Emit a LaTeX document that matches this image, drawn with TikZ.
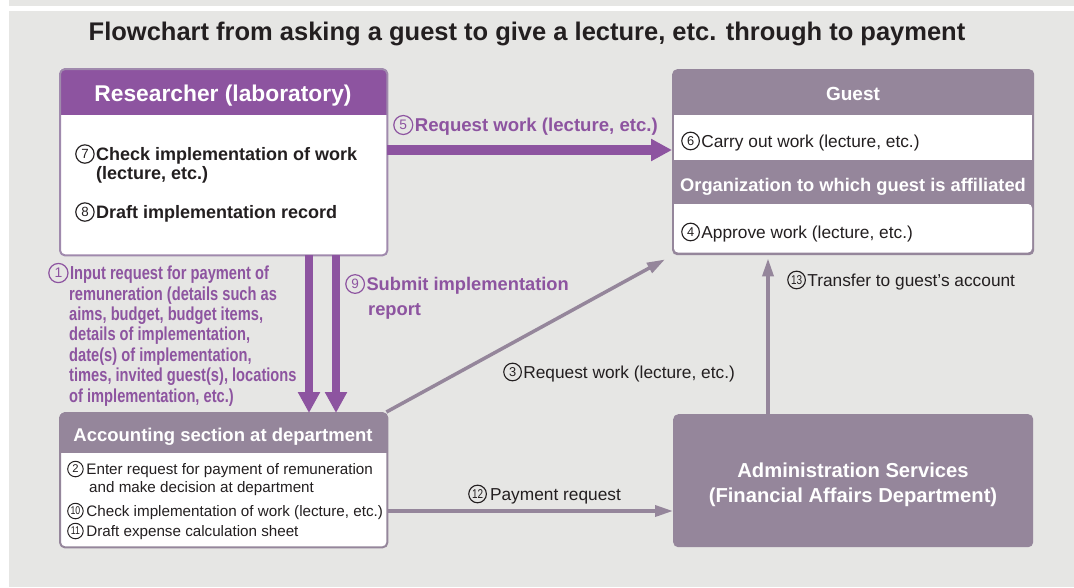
\documentclass[tikz,border=0pt]{standalone}
\usepackage{fontspec}
\setmainfont{Liberation Sans}
\newfontfamily\condf[FakeStretch=0.78]{Liberation Sans}
\usetikzlibrary{arrows.meta}
\definecolor{bg}{HTML}{E6E6E4}
\definecolor{pur}{HTML}{8D54A0}
\definecolor{resb}{HTML}{A08AAD}
\definecolor{mut}{HTML}{95869B}
\definecolor{txt}{HTML}{231F20}
\newcommand{\fs}[1]{\fontsize{#1}{#1}\selectfont}
\makeatletter
\newcommand{\circnum}[2]{\edef\cnsz{\f@size}%
  \tikz[baseline={([yshift=-0.36*\cnsz pt]c.center)}]\node[circle,draw=.,line width=0.065*\cnsz pt,inner sep=0pt,minimum size=1.02*\cnsz pt,anchor=center,font=#1\fontsize{\fpeval{0.74*\cnsz}}{\fpeval{0.74*\cnsz}}\selectfont\mdseries] (c) {#2};%
  \hspace{0.08em}}
\makeatother
\newcommand{\cn}[1]{\circnum{}{#1}}
\newcommand{\cnn}[1]{\circnum{\condf}{#1}}
\tikzset{
  lbl/.style={inner sep=0pt, anchor=base west, text=txt},
  ctr/.style={inner sep=0pt, anchor=base, text=txt},
  hdr/.style={ctr, text=white, font=\bfseries\fs{#1}},
  boxnode/.style={inner sep=0pt, anchor=north west, fill=white},
  bigarrow/.style={draw=pur, line width=#1, -{Triangle[length=21pt,width=21pt]}},
  thinarrow/.style={draw=mut, line width=3.5pt, -{Triangle[length=18pt,width=11pt]}},
}
\begin{document}
\begin{tikzpicture}[x=1pt,y=-1pt]
\useasboundingbox (0,0) rectangle (1074,587);
\fill[bg] (9,11) rectangle (1074,587);
\fill[bg] (9,0) rectangle (1074,5.5);
% title
\node[ctr, font=\bfseries\fs{25.5}] (title) at (527,40.2) {Flowchart from asking a guest to give a lecture, etc. through to payment};

% Researcher box
\node[boxnode, minimum width=327pt, minimum height=186pt] (res) at (60,69) {};
\begin{scope}
\clip[rounded corners=5pt] (res.north west) rectangle (res.south east);
\fill[pur] (res.north west) rectangle ([yshift=-46pt]res.north east);
\end{scope}
\draw[resb, line width=2pt, rounded corners=5pt] (res.north west) rectangle (res.south east);
\node[hdr=22.8] (resh) at (223,101.2) {Researcher (laboratory)};
\node[lbl, font=\bfseries\fs{18}] (r7) at (75,160.5) {\cn{7}Check implementation of work};
\node[lbl, font=\bfseries\fs{18}] (r7b) at (96,179.5) {(lecture, etc.)};
\node[lbl, font=\bfseries\fs{18}] (r8) at (75,218.5) {\cn{8}Draft implementation record};

% Guest box
\node[boxnode, fill=mut, minimum width=362pt, minimum height=186pt, rounded corners=5pt] (guest) at (672,69) {};
\fill[white] (674,115) rectangle (1032,160);
\fill[white, rounded corners=4pt] (674,204) -- (674,252.5) -- (1032,252.5) -- (1032,204) [sharp corners] -- cycle;
\node[hdr=19] (gh) at (853,100.8) {Guest};
\node[lbl, font=\fs{17.3}] (g6) at (681,147.2) {\cn{6}Carry out work (lecture, etc.)};
\node[hdr=18.3] (oh) at (853,191.6) {Organization to which guest is affiliated};
\node[lbl, font=\fs{17.3}] (g4) at (681,238.2) {\cn{4}Approve work (lecture, etc.)};

% Accounting box
\node[boxnode, minimum width=327pt, minimum height=134pt] (acc) at (60,413) {};
\begin{scope}
\clip[rounded corners=5pt] (acc.north west) rectangle (acc.south east);
\fill[mut] (acc.north west) rectangle ([yshift=-40pt]acc.north east);
\end{scope}
\draw[mut, line width=2pt, rounded corners=5pt] (acc.north west) rectangle (acc.south east);
\node[hdr=18.5] (acch) at (223,441.7) {Accounting section at department};
\node[lbl, font=\fs{15.2}] (a2) at (67,474.5) {\cn{2}\hspace{0.1em}Enter request for payment of remuneration};
\node[lbl, font=\fs{15.2}] (a2b) at (89,492.5) {and make decision at department};
\node[lbl, font=\fs{15.2}] (a10) at (67,516.5) {\cnn{10}\hspace{0.1em}Check implementation of work (lecture, etc.)};
\node[lbl, font=\fs{15.2}] (a11) at (67,536.5) {\cnn{11}\hspace{0.1em}Draft expense calculation sheet};

% Admin box
\node[boxnode, fill=mut, minimum width=360pt, minimum height=133pt, rounded corners=5pt] (adm) at (673,414) {};
\node[hdr=20.2] (adm1) at (853,477.3) {Administration Services};
\node[hdr=20.2] (adm2) at (853,502.3) {(Financial Affairs Department)};

% arrows
\draw[bigarrow=10pt] (res.east |- 0,150) -- (guest.west |- 0,150);
\draw[bigarrow=8pt] (res.south -| 309,0) -- (acc.north -| 309,0);
\draw[bigarrow=8pt] (res.south -| 336,0) -- (acc.north -| 336,0);
\draw[thinarrow] ([xshift=-1pt,yshift=1pt]acc.north east) -- ([xshift=-7pt,yshift=-4pt]guest.south west);
\draw[thinarrow] (acc.east |- 0,511) -- (adm.west |- 0,511);
\draw[thinarrow] (adm.north -| 768,0) -- ([yshift=-3pt]guest.south -| 768,0);

% arrow labels
\node[lbl, text=pur, font=\bfseries\fs{18.6}] (l5) at (393,131.7) {\cn{5}Request work (lecture, etc.)};
\node[lbl, text=pur, font=\bfseries\fs{18.3}] (l9) at (345,290.6) {\cn{9}Submit implementation};
\node[lbl, text=pur, font=\bfseries\fs{18.3}] (l9b) at (368,315.6) {report};
\node[lbl, text=pur, font=\bfseries\fs{18.8}] (l1) at (48,279.8) {\cn{1}\condf\bfseries Input request for payment of};
\node[lbl, text=pur, font=\condf\bfseries\fs{18.8}] (l1b) at (69,300.8) {remuneration (details such as};
\node[lbl, text=pur, font=\condf\bfseries\fs{18.8}] (l1c) at (69,320.8) {aims, budget, budget items,};
\node[lbl, text=pur, font=\condf\bfseries\fs{18.8}] (l1d) at (69,340.8) {details of implementation,};
\node[lbl, text=pur, font=\condf\bfseries\fs{18.8}] (l1e) at (69,361.8) {date(s) of implementation,};
\node[lbl, text=pur, font=\condf\bfseries\fs{18.8}] (l1f) at (69,381.8) {times, invited guest(s), locations};
\node[lbl, text=pur, font=\condf\bfseries\fs{18.8}] (l1g) at (69,402.8) {of implementation, etc.)};
\node[lbl, font=\fs{17.3}] (l3) at (503,378.2) {\cn{3}Request work (lecture, etc.)};
\node[lbl, font=\fs{17.3}] (l12) at (468,500.2) {\cnn{12}\hspace{0.1em}Payment request};
\node[lbl, font=\fs{17.3}] (l13) at (787,286.2) {\cnn{13}Transfer to guest’s account};
\end{tikzpicture}
\end{document}
